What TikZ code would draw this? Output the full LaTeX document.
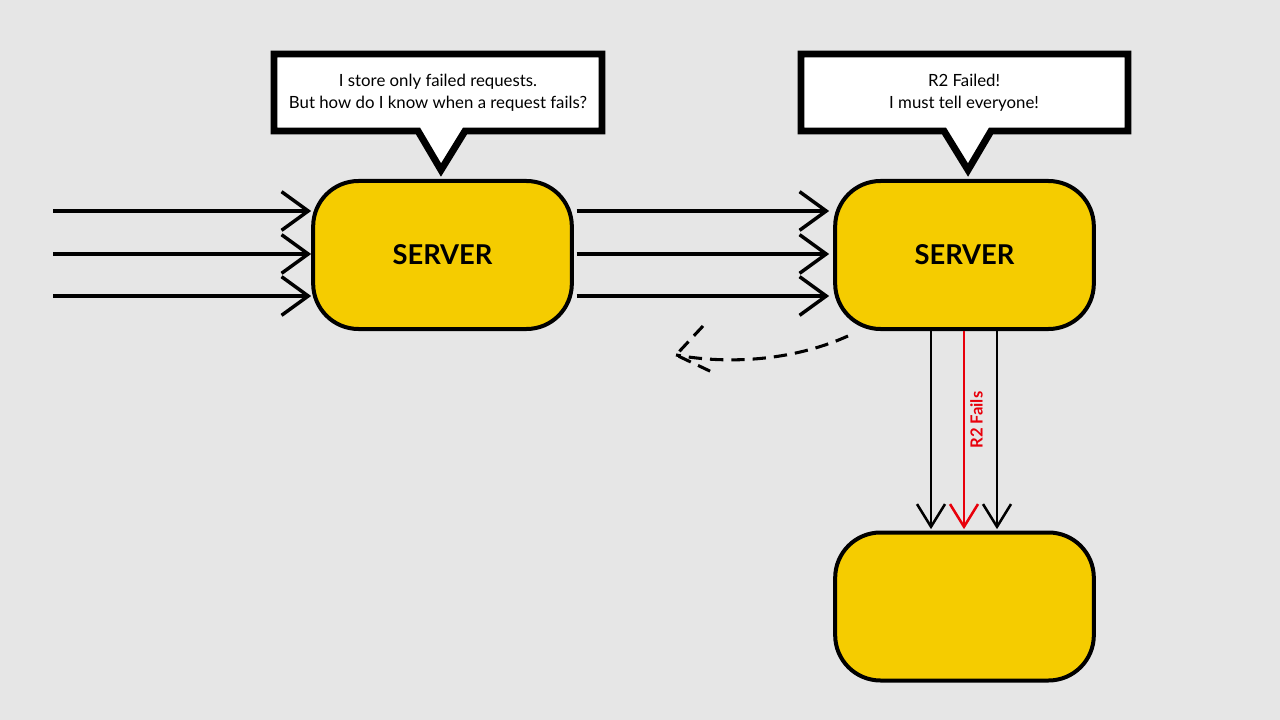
\documentclass[tikz,border=0pt]{standalone}
\usepackage{fontspec}
\setmainfont{Lato}
\usetikzlibrary{arrows.meta}
\definecolor{bg}{HTML}{E6E6E6}
\definecolor{srv}{HTML}{F5CC00}
\definecolor{fail}{HTML}{E8000B}
\begin{document}
\begin{tikzpicture}[x=0.75pt,y=-0.75pt,
  server/.style={draw=black, line width=3pt, fill=srv, rounded corners=34pt,
    minimum width=194pt, minimum height=111pt, inner sep=0pt,
    font=\fontsize{20.5}{24}\selectfont\bfseries},
  bubbletext/.style={align=center, font=\fontsize{12.6}{16.5}\selectfont, inner sep=0pt},
  bubble/.style={draw=black, fill=white, line width=5.2pt, miter limit=10},
  req/.style={line width=2.6pt, -{Straight Barb[length=20pt, width=29pt, line width=2.6pt]}},
  down/.style={line width=1.9pt, -{Straight Barb[length=17pt, width=21pt, line width=1.9pt]}},
  dashline/.style={line width=2.3pt, dash pattern=on 10pt off 6pt}
]
\useasboundingbox[fill=bg] (0,0) rectangle (1280,720);

% servers
\node[server] (s1) at (442.5,255) {SERVER};
\node[server] (s2) at (964.5,255) {SERVER};
\node[server] (s3) at (964.5,606.5) {};

% speech bubbles
\draw[bubble] (274,54) -- (602,54) -- (602,131) -- (465,131) -- (441,170) -- (418,131) -- (274,131) -- cycle;
\node[bubbletext] (b1) at (438,93) {I store only failed requests.\\But how do I know when a request fails?};
\draw[bubble] (801,54) -- (1128,54) -- (1128,131) -- (991,131) -- (968,170) -- (944,131) -- (801,131) -- cycle;
\node[bubbletext] (b2) at (964,93) {R2 Failed!\\I must tell everyone!};

% incoming requests
\coordinate (in1) at (53,211);
\coordinate (in2) at (53,254);
\coordinate (in3) at (53,296);
\draw[req] (in1) -- (s1.west |- in1);
\draw[req] (in2) -- (s1.west |- in2);
\draw[req] (in3) -- (s1.west |- in3);

% forwarded requests
\draw[req] ([xshift=2pt]s1.east |- in1) -- ([xshift=-3pt]s2.west |- in1);
\draw[req] ([xshift=2pt]s1.east |- in2) -- ([xshift=-3pt]s2.west |- in2);
\draw[req] ([xshift=2pt]s1.east |- in3) -- ([xshift=-3pt]s2.west |- in3);

% down arrows
\coordinate (d1) at (931,0);
\coordinate (d2) at (964,0);
\coordinate (d3) at (997,0);
\draw[down] (s2.south -| d1) -- ([yshift=1pt]s3.north -| d1);
\draw[down] (s2.south -| d3) -- ([yshift=1pt]s3.north -| d3);
\draw[down, draw=fail] (s2.south -| d2) -- ([yshift=1pt]s3.north -| d2);
\node[rotate=90, anchor=north, text=fail, inner sep=0pt, font=\fontsize{12.5}{14}\selectfont\bfseries] (lbl) at (970,420) {R2 Fails};

% dashed return arrow
\coordinate (rs) at (848,336);
\coordinate (rt) at (676,355);
\coordinate (rw1) at (703,326);
\coordinate (rw2) at (714,373);
\draw[dashline] (rs) .. controls (790,362) and (725,364) .. (rt);
\draw[dashline] (rw1) -- (rt) -- (rw2);
\end{tikzpicture}
\end{document}
